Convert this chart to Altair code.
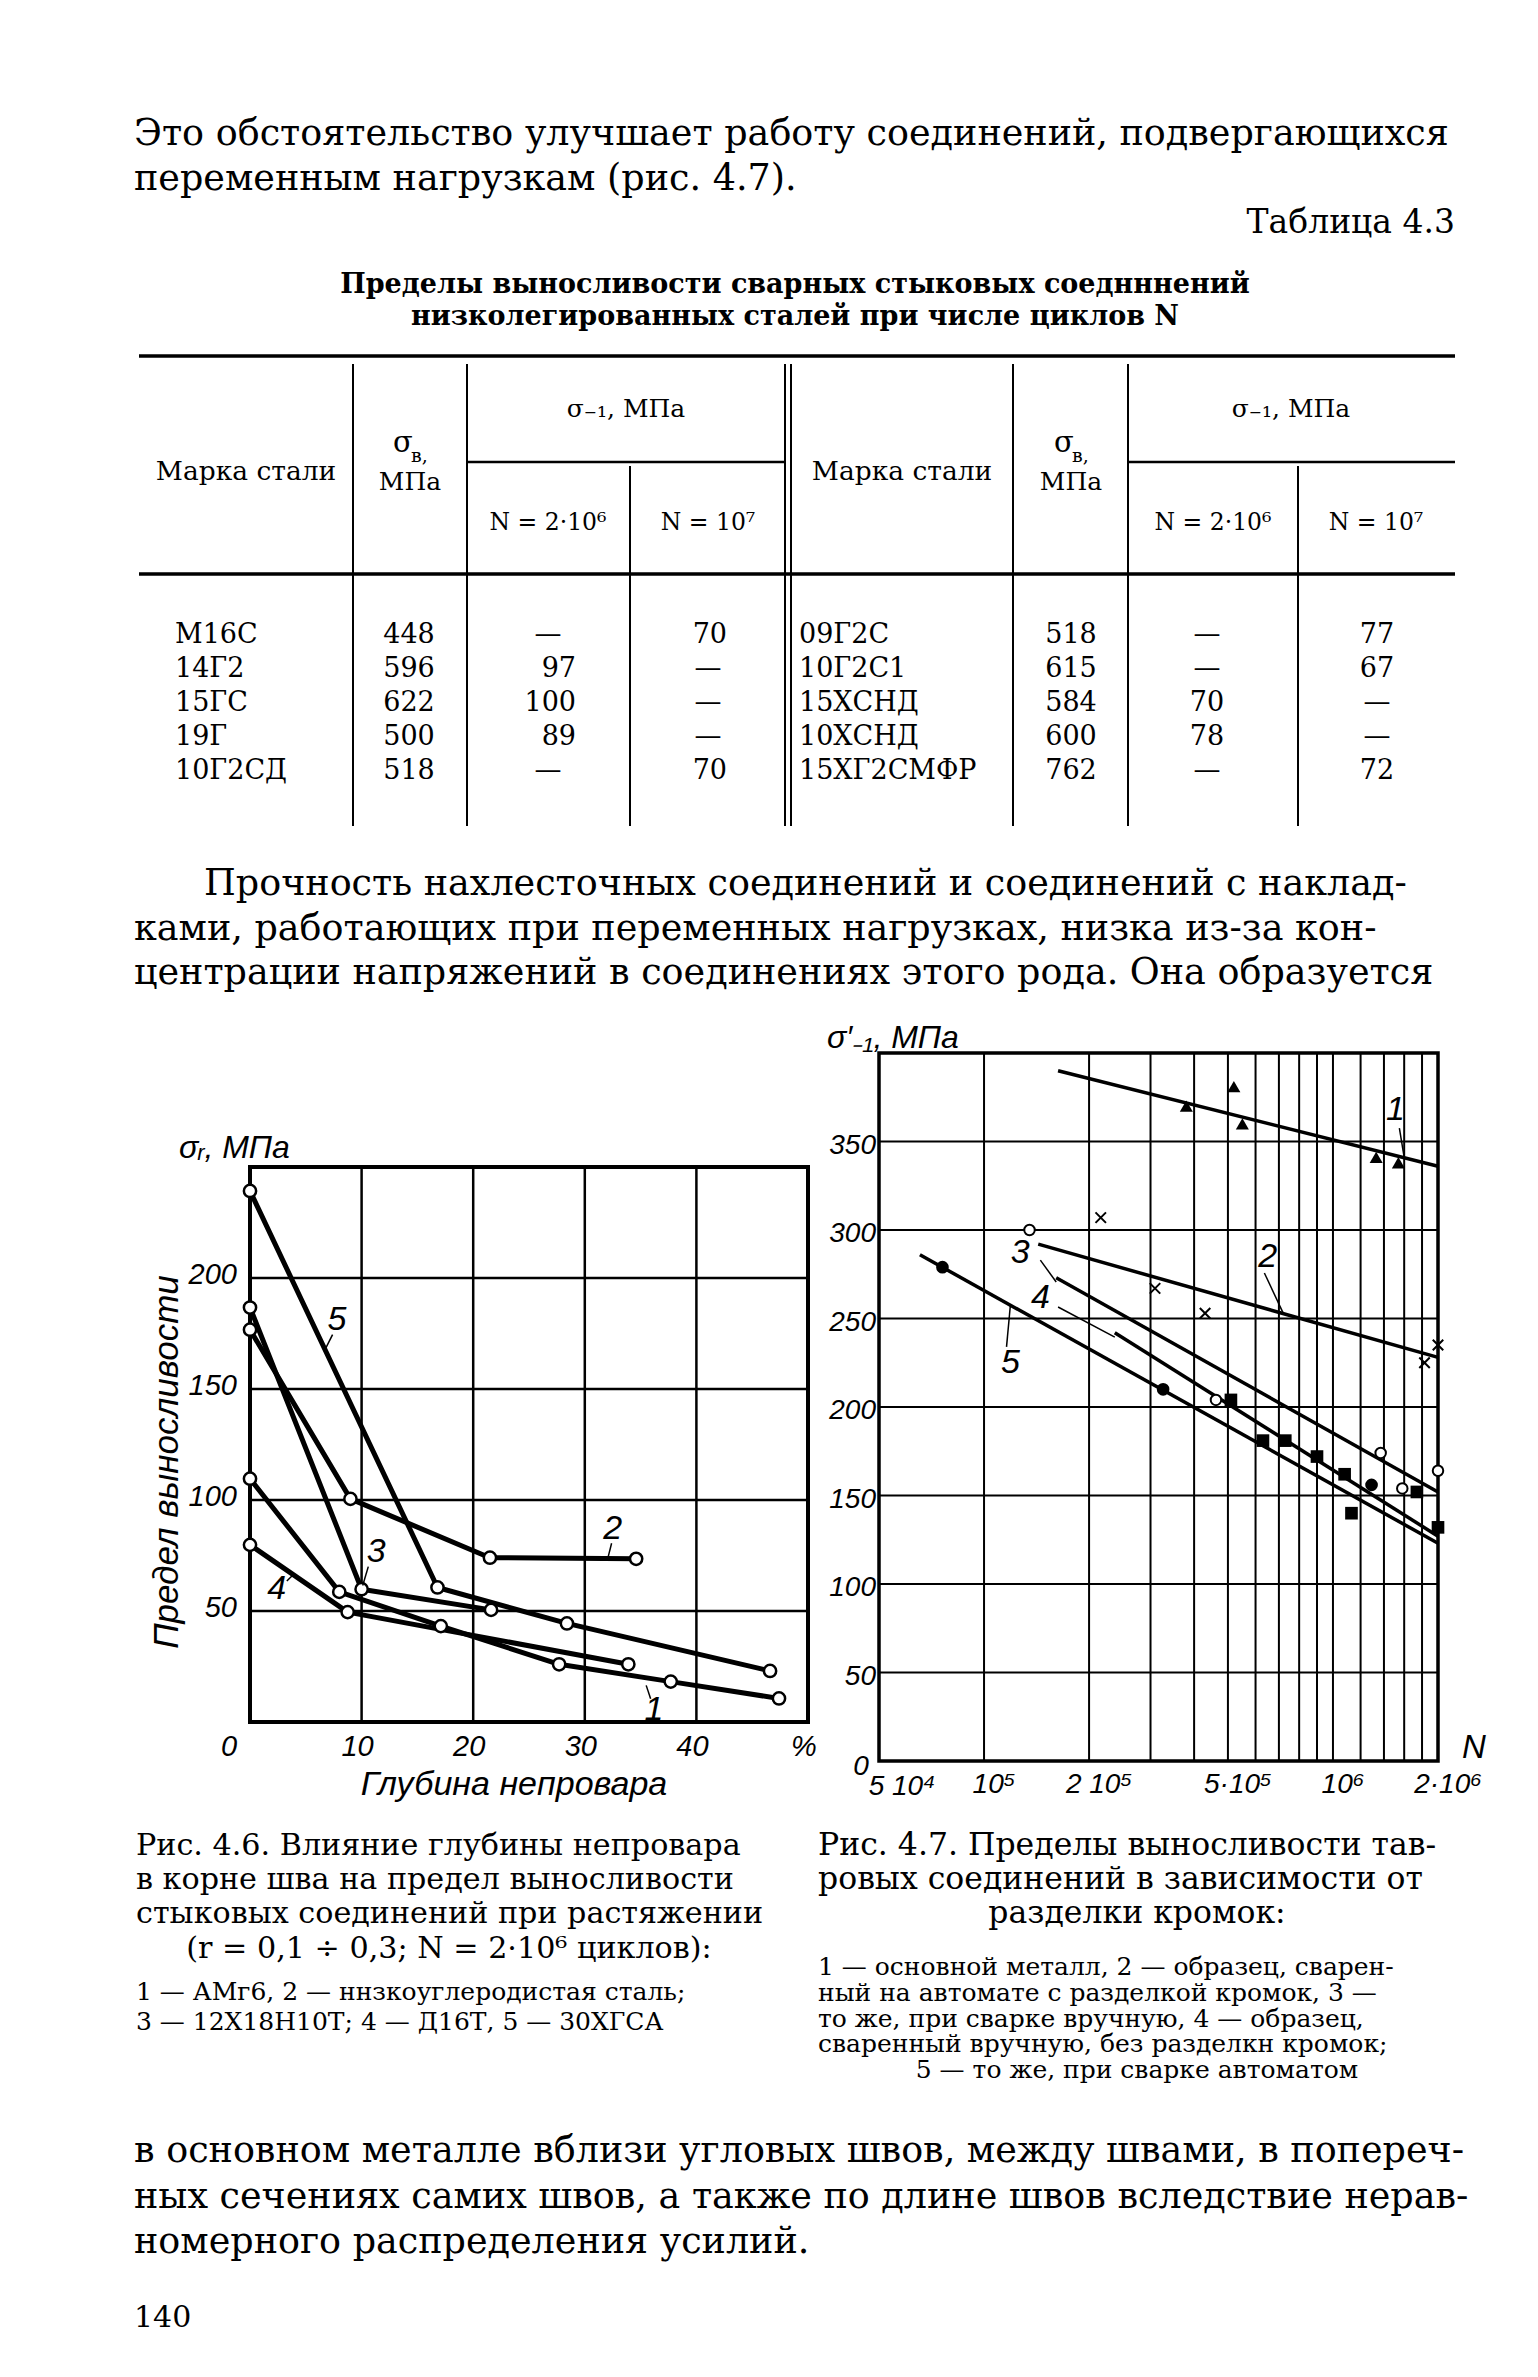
import altair as alt
import pandas as pd

SERIF = "DejaVu Serif"
SANS = "Liberation Sans"
M = 8  # page margin of the html body


def P(v):
    return v - M


# ---------------- page text ----------------
top_lines = ["Это обстоятельство улучшает работу соединений, подвергающихся",
             "переменным нагрузкам (рис. 4.7)."]
table_label = "Таблица 4.3"
table_title = ["Пределы выносливости сварных стыковых соеднннений",
               "низколегированных сталей при числе циклов N"]
para_lines = ["Прочность нахлесточных соединений и соединений с наклад-",
              "ками, работающих при переменных нагрузках, низка из-за кон-",
              "центрации напряжений в соединениях этого рода. Она образуется"]
bottom_lines = ["в основном металле вблизи угловых швов, между швами, в попереч-",
                "ных сечениях самих швов, а также по длине швов вследствие нерав-",
                "номерного распределения усилий."]
page_number = "140"

cap46_lines = ["Рис. 4.6. Влияние глубины непровара",
               "в корне шва на предел выносливости",
               "стыковых соединений при растяжении"]
cap46_last = "(r = 0,1 ÷ 0,3; N = 2·10⁶ циклов):"
cap46_small = ["1 — АМг6, 2 — ннзкоуглеродистая сталь;",
               "3 — 12Х18Н10Т; 4 — Д16Т, 5 — 30ХГСА"]
cap47_lines = ["Рис. 4.7. Пределы выносливости тав-",
               "ровых соединений в зависимости от"]
cap47_center = "разделки кромок:"
cap47_small = ["1 — основной металл, 2 — образец, сварен-",
               "ный на автомате с разделкой кромок, 3 —",
               "то же, при сварке вручную, 4 — образец,",
               "сваренный вручную, без разделкн кромок;"]
cap47_small_last = "5 — то же, при сварке автоматом"

# ---------------- table 4.3 ----------------
hdr_mark = "Марка стали"
hdr_sigma1 = "σ₋₁, МПа"
hdr_sb = "σ"
hdr_sb_sub = "в,"
hdr_mpa = "МПа"
hdr_n1 = "N = 2·10⁶"
hdr_n2 = "N = 10⁷"

steel_left = ["М16С", "14Г2", "15ГС", "19Г", "10Г2СД"]
sb_left = ["448", "596", "622", "500", "518"]
n2e6_left = ["—", "97", "100", "89", "—"]
n1e7_left = ["70", "—", "—", "—", "70"]
steel_right = ["09Г2С", "10Г2С1", "15ХСНД", "10ХСНД", "15ХГ2СМФР"]
sb_right = ["518", "615", "584", "600", "762"]
n2e6_right = ["—", "—", "70", "78", "—"]
n1e7_right = ["77", "67", "—", "—", "72"]

# ---------------- Fig 4.6 ----------------
f6_c1_x = [0, 8, 17.1, 27.7, 37.7, 47.4]
f6_c1_y = [109.6, 58.6, 43.2, 26, 18.2, 10.6]
f6_c2_x = [0, 9, 21.5, 34.6]
f6_c2_y = [176.7, 100.5, 74, 73.5]
f6_c3_x = [0, 10, 21.6]
f6_c3_y = [186.7, 59.8, 50.5]
f6_c4_x = [0, 8.75, 33.9]
f6_c4_y = [79.8, 49.5, 26]
f6_c5_x = [0, 16.8, 28.4, 46.6]
f6_c5_y = [239.2, 60.6, 44.4, 23]
f6_grid_x = [10, 20, 30, 40]
f6_grid_y = [50, 100, 150, 200]
f6_xticks = [10, 20, 30, 40, 50]
f6_xtick_labels = ["10", "20", "30", "40", "%"]
f6_yticks = [50, 100, 150, 200]
f6_lab_text = ["1", "2", "3", "4", "5"]
f6_lab_x = [36.2, 32.5, 11.3, 2.4, 7.8]
f6_lab_y = [5.5, 87, 76.5, 60, 181]
f6_lead_x1 = [35.5, 32.4, 10.6, 3.3, 7.4]
f6_lead_y1 = [16.5, 80.5, 70, 63.5, 174.5]
f6_lead_x2 = [35.9, 32.1, 10.1, 3.8, 6.8]
f6_lead_y2 = [10.5, 74.5, 61.5, 66, 168.5]

# ---------------- Fig 4.7 ----------------
f7_line_N = {"1": [1.63e5, 2e6], "2": [1.43e5, 2e6], "3": [1.61e5, 2e6],
             "4": [2.37e5, 2e6], "5": [6.55e4, 2e6]}
f7_line_s = {"1": [390, 336], "2": [292, 228], "3": [273, 152],
             "4": [242, 127], "5": [286, 123]}
f7_tri_N = [3.8e5, 5.2e5, 5.5e5, 1.33e6, 1.54e6]
f7_tri_s = [370, 381, 360, 341, 338]
f7_x_N = [2.16e5, 3.09e5, 4.3e5, 1.83e6, 2.0e6]
f7_x_s = [307, 267, 253, 225, 235]
f7_oc_N = [1.35e5, 4.62e5, 1.37e6, 1.58e6, 2.0e6]
f7_oc_s = [300, 204, 174, 154, 164]
f7_sq_N = [5.1e5, 6.3e5, 7.3e5, 9.0e5, 1.08e6, 1.13e6, 1.74e6, 2.0e6]
f7_sq_s = [204, 181, 181, 172, 162, 140, 152, 132]
f7_fc_N = [7.6e4, 3.26e5, 1.29e6]
f7_fc_s = [279, 210, 156]
f7_grid_N = [1e5, 2e5, 3e5, 4e5, 5e5, 6e5, 7e5, 8e5, 9e5, 1e6, 1.2e6, 1.4e6, 1.6e6, 1.8e6]
f7_grid_s = [50, 100, 150, 200, 250, 300, 350]
f7_xticks = [1e5, 2e5, 5e5, 1e6, 2e6]
f7_xtick_labels = ["10⁵", "2 10⁵", "5·10⁵", "10⁶", "2·10⁶"]
f7_first_label = "5 10⁴"
f7_yticks = [50, 100, 150, 200, 250, 300, 350]
f7_lab_text = ["1", "2", "3", "4", "5"]
f7_lab_N = [1.51e6, 6.5e5, 1.27e5, 1.45e5, 1.19e5]
f7_lab_s = [368, 285, 287, 261.6, 225]
f7_lead_N1 = [1.55e6, 6.36e5, 1.45e5, 1.63e5, 1.16e5]
f7_lead_s1 = [357.6, 275.7, 283, 256.5, 234]
f7_lead_N2 = [1.6e6, 7.2e5, 1.61e5, 2.37e5, 1.19e5]
f7_lead_s2 = [341, 253, 270.6, 239.5, 257.6]


# ================= helpers =================
def tl(texts, xs, ys, size, font=SERIF, align="left", style="normal", weight="normal",
       angle=0, baseline="alphabetic"):
    df = pd.DataFrame({"t": texts, "x": [P(v) for v in xs], "y": [P(v) for v in ys]})
    kw = dict(align=align, baseline=baseline, font=font, fontSize=size,
              fontStyle=style, fontWeight=weight, color="black")
    if angle:
        kw["angle"] = angle
    return alt.Chart(df).mark_text(**kw).encode(
        x=alt.X("x:Q", scale=None, axis=None),
        y=alt.Y("y:Q", scale=None, axis=None),
        text="t:N")


def rules(x1, x2, y1, y2, w):
    df = pd.DataFrame({"x": [P(v) for v in x1], "x2": [P(v) for v in x2],
                       "y": [P(v) for v in y1], "y2": [P(v) for v in y2]})
    return alt.Chart(df).mark_rule(strokeWidth=w, color="black").encode(
        x=alt.X("x:Q", scale=None, axis=None), x2="x2:Q",
        y=alt.Y("y:Q", scale=None, axis=None), y2="y2:Q")


page = []
BODY = 36.5
page.append(tl(top_lines, [134, 134], [145, 190], BODY))
page.append(tl([table_label], [1455], [233], 33, align="right"))
page.append(tl(table_title, [795, 795], [293, 325], 27, align="center", weight="bold"))
page.append(tl(para_lines, [204, 134, 134], [895, 940, 984], BODY))
page.append(tl(bottom_lines, [134, 134, 134], [2162, 2208, 2253], BODY))
page.append(tl([page_number], [134], [2327], 30))

# table rules
TL, TR = 139, 1455
page.append(rules([TL, TL], [TR, TR], [356, 574], [356, 574], 3.5))
page.append(rules([467, 1128], [785, 1455], [462, 462], [462, 462], 2.5))
full_cols = [353, 467, 785, 791, 1013, 1128]
page.append(rules(full_cols, full_cols, [364] * 6, [826] * 6, 2))
page.append(rules([630, 1298], [630, 1298], [466, 466], [826, 826], 2))

# table header
HS = 25
page.append(tl([hdr_sigma1, hdr_sigma1], [626, 1291], [417, 417], HS, align="center"))
page.append(tl([hdr_mark, hdr_mark], [246, 902], [480, 480], 26.5, align="center"))
page.append(tl([hdr_sb, hdr_sb], [403, 1064], [452, 452], 29, align="center"))
page.append(tl([hdr_sb_sub, hdr_sb_sub], [411, 1072], [462, 462], 19))
page.append(tl([hdr_mpa, hdr_mpa], [410, 1071], [490, 490], HS, align="center"))
page.append(tl([hdr_n1, hdr_n2, hdr_n1, hdr_n2], [548, 708, 1213, 1376], [530] * 4, 23.5,
               align="center"))

# table body
row_y = [643, 677, 711, 745, 779]
CS = 27
page.append(tl(steel_left, [175] * 5, row_y, CS))
page.append(tl(steel_right, [799] * 5, row_y, CS))
page.append(tl(sb_left, [409] * 5, row_y, CS, align="center"))
page.append(tl(sb_right, [1071] * 5, row_y, CS, align="center"))
num_l_t, num_l_x, num_l_y, dash_t, dash_x, dash_y = [], [], [], [], [], []
for vals, xr, xc in [(n2e6_left, 576, 548), (n1e7_left, 727, 708)]:
    for v, y in zip(vals, row_y):
        if v == "—":
            dash_t.append(v); dash_x.append(xc); dash_y.append(y)
        else:
            num_l_t.append(v); num_l_x.append(xr); num_l_y.append(y)
page.append(tl(num_l_t, num_l_x, num_l_y, CS, align="right"))
page.append(tl(dash_t, dash_x, dash_y, CS, align="center"))
page.append(tl(n2e6_right, [1207] * 5, row_y, CS, align="center"))
page.append(tl(n1e7_right, [1377] * 5, row_y, CS, align="center"))

# captions
CAP_L = 30.2
CAP_R = 31.5
SMALL = 25
page.append(tl(cap46_lines, [136] * 3, [1855, 1889, 1923], CAP_L))
page.append(tl([cap46_last], [449], [1958], CAP_L, align="center"))
page.append(tl(cap46_small, [136, 136], [2000, 2030], SMALL))
page.append(tl(cap47_lines, [818, 818], [1855, 1889], CAP_R))
page.append(tl([cap47_center], [1137], [1923], CAP_R, align="center"))
page.append(tl(cap47_small, [818] * 4, [1975, 2001, 2027, 2052], SMALL))
page.append(tl([cap47_small_last], [1137], [2078], SMALL, align="center"))

# plot titles outside the frames
page.append(tl(["σᵣ, МПа"], [179], [1158], 32, font=SANS, style="italic"))
page.append(tl(["Предел выносливости"], [178], [1462], 35, font=SANS, style="italic",
               angle=270, align="center"))
page.append(tl(["Глубина непровара"], [514], [1795], 34, font=SANS, style="italic",
               align="center"))
page.append(tl(["σ′₋₁, МПа"], [827], [1048], 32, font=SANS, style="italic"))
page.append(tl(["N"], [1474], [1758], 33, font=SANS, style="italic", align="center"))

# ================= Fig 4.6 =================
LXS = alt.Scale(domain=[0, 50], range=[P(250), P(808)], nice=False, zero=False)
LYS = alt.Scale(domain=[0, 250], range=[P(1722), P(1167)], nice=False, zero=False)


def LX(f):
    return alt.X(f, type="quantitative", scale=LXS, axis=None)


def LY(f):
    return alt.Y(f, type="quantitative", scale=LYS, axis=None)


left = []
gv = pd.DataFrame({"x": f6_grid_x, "y": [0] * 4, "y2": [250] * 4})
gh = pd.DataFrame({"y": f6_grid_y, "x": [0] * 4, "x2": [50] * 4})
left.append(alt.Chart(gv).mark_rule(color="black", strokeWidth=2.5).encode(
    x=LX("x"), y=LY("y"), y2=alt.Y2("y2")))
left.append(alt.Chart(gh).mark_rule(color="black", strokeWidth=2.5).encode(
    y=LY("y"), x=LX("x"), x2=alt.X2("x2")))
frame6 = pd.DataFrame({"x0": [0], "x1": [50], "y0": [0], "y1": [250]})
left.append(alt.Chart(frame6).mark_rect(filled=False, color="black", strokeWidth=4).encode(
    x=LX("x0"), x2=alt.X2("x1"), y=LY("y0"), y2=alt.Y2("y1")))

rows = []
for cid, xs, ys in [("1", f6_c1_x, f6_c1_y), ("2", f6_c2_x, f6_c2_y), ("3", f6_c3_x, f6_c3_y),
                    ("4", f6_c4_x, f6_c4_y), ("5", f6_c5_x, f6_c5_y)]:
    for i, (x, y) in enumerate(zip(xs, ys)):
        rows.append({"c": cid, "i": i, "x": x, "y": y})
c6 = pd.DataFrame(rows)
left.append(alt.Chart(c6).mark_line(color="black", strokeWidth=5, strokeJoin="round").encode(
    x=LX("x"), y=LY("y"), detail="c:N", order="i:Q"))
left.append(alt.Chart(c6).mark_point(shape="circle", filled=True, fill="white", stroke="black",
                                     strokeWidth=2.5, size=150, opacity=1).encode(
    x=LX("x"), y=LY("y")))
lead6 = pd.DataFrame({"x": f6_lead_x1, "y": f6_lead_y1, "x2": f6_lead_x2, "y2": f6_lead_y2})
left.append(alt.Chart(lead6).mark_rule(color="black", strokeWidth=1.5).encode(
    x=LX("x"), y=LY("y"), x2=alt.X2("x2"), y2=alt.Y2("y2")))
lab6 = pd.DataFrame({"t": f6_lab_text, "x": f6_lab_x, "y": f6_lab_y})
left.append(alt.Chart(lab6).mark_text(font=SANS, fontStyle="italic", fontSize=34,
                                      color="black", baseline="middle").encode(
    x=LX("x"), y=LY("y"), text="t:N"))
yt6 = pd.DataFrame({"t": [str(v) for v in f6_yticks], "x": [0] * 4, "y": f6_yticks})
left.append(alt.Chart(yt6).mark_text(font=SANS, fontStyle="italic", fontSize=29, align="right",
                                     baseline="middle", dx=-13, dy=-3, color="black").encode(
    x=LX("x"), y=LY("y"), text="t:N"))
xt6 = pd.DataFrame({"t": f6_xtick_labels, "x": f6_xticks, "y": [0] * 5})
left.append(alt.Chart(xt6).mark_text(font=SANS, fontStyle="italic", fontSize=29, align="center",
                                     baseline="middle", dx=-4, dy=25, color="black").encode(
    x=LX("x"), y=LY("y"), text="t:N"))
x06 = pd.DataFrame({"t": ["0"], "x": [0], "y": [0]})
left.append(alt.Chart(x06).mark_text(font=SANS, fontStyle="italic", fontSize=29, align="center",
                                     baseline="middle", dx=-21, dy=25, color="black").encode(
    x=LX("x"), y=LY("y"), text="t:N"))

# ================= Fig 4.7 =================
RXS = alt.Scale(type="log", domain=[5e4, 2e6], range=[P(879), P(1438)], nice=False)
RYS = alt.Scale(domain=[0, 400], range=[P(1761), P(1053)], nice=False, zero=False)


def RX(f):
    return alt.X(f, type="quantitative", scale=RXS, axis=None)


def RY(f):
    return alt.Y(f, type="quantitative", scale=RYS, axis=None)


right = []
gv7 = pd.DataFrame({"x": f7_grid_N, "y": [0] * len(f7_grid_N), "y2": [400] * len(f7_grid_N)})
gh7 = pd.DataFrame({"y": f7_grid_s, "x": [5e4] * len(f7_grid_s), "x2": [2e6] * len(f7_grid_s)})
right.append(alt.Chart(gv7).mark_rule(color="black", strokeWidth=2).encode(
    x=RX("x"), y=RY("y"), y2=alt.Y2("y2")))
right.append(alt.Chart(gh7).mark_rule(color="black", strokeWidth=2).encode(
    y=RY("y"), x=RX("x"), x2=alt.X2("x2")))
frame7 = pd.DataFrame({"x0": [5e4], "x1": [2e6], "y0": [0], "y1": [400]})
right.append(alt.Chart(frame7).mark_rect(filled=False, color="black", strokeWidth=3.5).encode(
    x=RX("x0"), x2=alt.X2("x1"), y=RY("y0"), y2=alt.Y2("y1")))

rows = []
for cid in ["1", "2", "3", "4", "5"]:
    for i, (n, s) in enumerate(zip(f7_line_N[cid], f7_line_s[cid])):
        rows.append({"c": cid, "i": i, "x": n, "y": s})
l7 = pd.DataFrame(rows)
right.append(alt.Chart(l7).mark_line(color="black", strokeWidth=3.5).encode(
    x=RX("x"), y=RY("y"), detail="c:N", order="i:Q"))
lead7 = pd.DataFrame({"x": f7_lead_N1, "y": f7_lead_s1, "x2": f7_lead_N2, "y2": f7_lead_s2})
right.append(alt.Chart(lead7).mark_rule(color="black", strokeWidth=1.5).encode(
    x=RX("x"), y=RY("y"), x2=alt.X2("x2"), y2=alt.Y2("y2")))

right.append(alt.Chart(pd.DataFrame({"x": f7_tri_N, "y": f7_tri_s})).mark_point(
    shape="triangle-up", filled=True, color="black", size=170, opacity=1).encode(
    x=RX("x"), y=RY("y")))
right.append(alt.Chart(pd.DataFrame({"x": f7_x_N, "y": f7_x_s})).mark_point(
    shape="M-1,-1L1,1M1,-1L-1,1", filled=False, color="black", strokeWidth=2, size=110,
    opacity=1).encode(x=RX("x"), y=RY("y")))
right.append(alt.Chart(pd.DataFrame({"x": f7_sq_N, "y": f7_sq_s})).mark_point(
    shape="square", filled=True, color="black", size=160, opacity=1).encode(
    x=RX("x"), y=RY("y")))
right.append(alt.Chart(pd.DataFrame({"x": f7_fc_N, "y": f7_fc_s})).mark_point(
    shape="circle", filled=True, color="black", size=160, opacity=1).encode(
    x=RX("x"), y=RY("y")))
right.append(alt.Chart(pd.DataFrame({"x": f7_oc_N, "y": f7_oc_s})).mark_point(
    shape="circle", filled=True, fill="white", stroke="black", strokeWidth=2, size=110,
    opacity=1).encode(x=RX("x"), y=RY("y")))

lab7 = pd.DataFrame({"t": f7_lab_text, "x": f7_lab_N, "y": f7_lab_s})
right.append(alt.Chart(lab7).mark_text(font=SANS, fontStyle="italic", fontSize=34,
                                       color="black", baseline="middle").encode(
    x=RX("x"), y=RY("y"), text="t:N"))
yt7 = pd.DataFrame({"t": [str(v) for v in f7_yticks], "x": [5e4] * 7, "y": f7_yticks})
right.append(alt.Chart(yt7).mark_text(font=SANS, fontStyle="italic", fontSize=28, align="right",
                                      baseline="middle", dx=-3, dy=4, color="black").encode(
    x=RX("x"), y=RY("y"), text="t:N"))
y07 = pd.DataFrame({"t": ["0"], "x": [5e4], "y": [0]})
right.append(alt.Chart(y07).mark_text(font=SANS, fontStyle="italic", fontSize=28, align="center",
                                      baseline="middle", dx=-18, dy=6, color="black").encode(
    x=RX("x"), y=RY("y"), text="t:N"))
xt7 = pd.DataFrame({"t": f7_xtick_labels, "x": f7_xticks, "y": [0] * 5})
right.append(alt.Chart(xt7).mark_text(font=SANS, fontStyle="italic", fontSize=28, align="center",
                                      baseline="middle", dx=10, dy=24, color="black").encode(
    x=RX("x"), y=RY("y"), text="t:N"))
xf7 = pd.DataFrame({"t": [f7_first_label], "x": [5e4], "y": [0]})
right.append(alt.Chart(xf7).mark_text(font=SANS, fontStyle="italic", fontSize=28, align="center",
                                      baseline="middle", dx=23, dy=26, color="black").encode(
    x=RX("x"), y=RY("y"), text="t:N"))

chart = alt.layer(
    alt.layer(*page), alt.layer(*left), alt.layer(*right)
).resolve_scale(x="independent", y="independent").properties(
    width=1522, height=2361, padding=0,
    autosize=alt.AutoSizeParams(type="none"),
    background="white",
).configure_view(stroke=None)

chart.save("out.html", embed_options={"renderer": "svg", "actions": False})
